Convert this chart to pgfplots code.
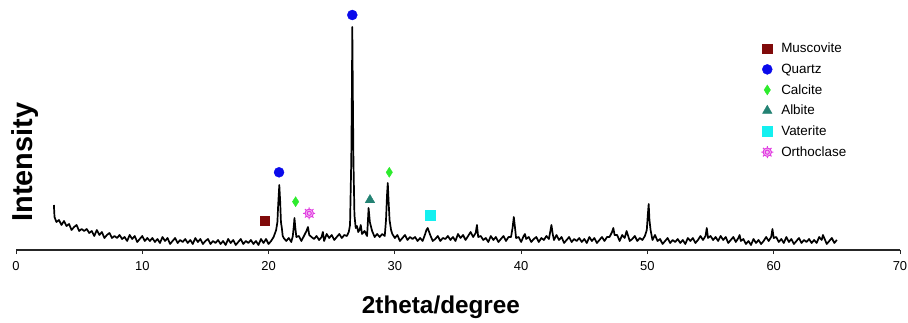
\documentclass[border=0pt]{standalone}
\usepackage{fontspec}
\setmainfont{Liberation Sans}
\usepackage{pgfplots}
\pgfplotsset{compat=1.18}
\usepackage{pgfplotstable}
\definecolor{musc}{RGB}{128,10,10}
\definecolor{quartz}{RGB}{10,10,235}
\definecolor{calc}{RGB}{45,235,45}
\definecolor{albite}{RGB}{35,130,115}
\definecolor{vater}{RGB}{20,240,240}
\definecolor{ortho}{RGB}{225,60,225}
\pgfdeclareplotmark{ortho}{%
  \pgfpathcircle{\pgfpointorigin}{0.7\pgfplotmarksize}%
  \pgfusepathqfillstroke
  \foreach \a in {0,45,...,315}{%
    \pgfpathmoveto{\pgfpointpolar{\a}{0.7\pgfplotmarksize}}%
    \pgfpathlineto{\pgfpointpolar{\a}{\pgfplotmarksize}}}%
  \pgfpathmoveto{\pgfpointpolar{0}{0.35\pgfplotmarksize}}%
  \pgfpathcircle{\pgfpointorigin}{0.35\pgfplotmarksize}%
  \pgfusepathqstroke
}
\pgfplotstableread{
x y
3.0 45
3.05 33
3.2 28
3.4 30
3.6 25
3.8 29
4.0 24
4.2 26
4.4 20
4.6 23
4.8 25
5.0 19
5.2 21
5.4 19
5.6 21
5.8 17
6.0 19
6.2 14
6.4 20
6.6 15
6.8 18
7.0 12
7.2 15
7.4 17
7.6 12
7.8 14
8.0 12
8.2 15
8.4 11
8.6 13
8.8 9
9.0 15
9.2 11
9.4 14
9.6 8
9.8 11
10.0 14
10.2 9
10.4 12
10.6 9
10.8 12
11.0 8
11.2 11
11.4 7
11.6 13
11.8 9
12.0 12
12.2 6
12.4 9
12.6 12
12.8 7
13.0 10
13.2 8
13.4 11
13.6 7
13.8 10
14.0 6
14.2 12
14.4 8
14.6 11
14.8 6
15.0 9
15.2 11
15.4 6
15.6 9
15.8 7
16.0 10
16.2 6
16.4 9
16.6 5
16.8 11
17.0 7
17.2 10
17.4 5
17.6 8
17.8 11
18.0 6
18.2 9
18.4 7
18.6 10
18.8 6
19.0 9
19.2 5
19.4 11
19.6 7
19.8 11
20.0 6
20.2 9
20.4 13
20.6 20
20.7 28
20.76 45
20.85 65
20.92 48
20.98 28
21.05 22
21.12 14
21.2 12
21.4 9
21.6 12
21.8 8
21.92 14
22.0 24
22.05 32
22.12 22
22.2 13
22.4 14
22.6 9
22.8 14
23.0 19
23.12 23
23.22 15
23.4 13
23.6 11
23.8 14
24.0 10
24.2 13
24.3 18
24.4 9
24.6 16
24.8 12
25.0 15
25.2 10
25.4 13
25.6 16
25.8 12
26.0 15
26.2 14
26.35 18
26.45 25
26.55 90
26.6 160
26.63 223
26.67 160
26.72 90
26.8 35
26.9 22
27.0 24
27.1 18
27.2 20
27.3 25
27.4 16
27.6 19
27.8 14
27.85 25
27.92 42
28.02 28
28.2 19
28.4 13
28.6 16
28.8 13
29.0 16
29.2 14
29.3 30
29.38 55
29.44 67
29.5 50
29.58 30
29.7 20
29.8 16
30.0 12
30.2 15
30.4 9
30.6 12
30.8 15
31.0 10
31.2 13
31.4 11
31.6 13
31.8 9
32.0 12
32.2 9
32.4 16
32.5 20
32.6 22
32.8 15
33.0 9
33.2 11
33.4 14
33.6 9
33.8 12
34.0 11
34.2 14
34.4 10
34.6 13
34.8 9
35.0 16
35.2 12
35.4 15
35.6 10
35.8 14
36.0 18
36.2 13
36.4 17
36.5 25
36.6 13
36.8 14
37.0 10
37.2 12
37.4 8
37.6 14
37.8 10
38.0 13
38.2 8
38.4 11
38.6 14
38.8 9
39.0 13
39.2 13
39.32 22
39.42 33
39.5 24
39.6 12
39.8 13
40.0 8
40.2 14
40.3 16
40.4 11
40.6 13
40.8 8
41.0 11
41.2 13
41.4 8
41.6 12
41.8 10
42.0 14
42.2 11
42.4 25
42.5 16
42.6 10
42.8 15
43.0 10
43.2 13
43.4 7
43.6 10
43.8 13
44.0 8
44.2 11
44.4 9
44.6 12
44.8 8
45.0 11
45.2 7
45.4 13
45.6 9
45.8 12
46.0 7
46.2 10
46.4 13
46.6 9
46.8 13
47.0 13
47.2 18
47.3 22
47.4 15
47.6 15
47.8 9
48.0 15
48.2 12
48.35 19
48.4 17
48.6 9
48.8 11
49.0 14
49.2 9
49.4 12
49.6 10
49.8 14
49.95 20
50.03 35
50.1 46
50.16 30
50.25 20
50.4 10
50.6 15
50.8 9
51.0 11
51.2 6
51.4 9
51.6 12
51.8 7
52.0 10
52.2 8
52.4 11
52.6 7
52.8 10
53.0 6
53.2 12
53.4 9
53.6 12
53.8 7
54.0 10
54.2 14
54.4 10
54.6 14
54.7 22
54.8 12
55.0 14
55.2 10
55.4 13
55.6 9
55.8 14
56.0 10
56.2 13
56.4 7
56.6 10
56.8 13
57.0 8
57.2 12
57.3 15
57.4 9
57.6 11
57.8 6
58.0 9
58.2 5
58.4 11
58.6 7
58.8 10
59.0 6
59.2 9
59.4 13
59.6 9
59.8 13
59.9 21
60.0 12
60.2 13
60.4 8
60.6 11
60.8 7
61.0 13
61.2 8
61.4 11
61.6 6
61.8 9
62.0 12
62.2 7
62.4 10
62.6 8
62.8 11
63.0 7
63.2 10
63.4 7
63.6 13
63.8 10
63.9 15
64.0 12
64.2 6
64.4 9
64.6 12
64.8 7
65.0 10
}\xrd
\begin{document}
\begin{tikzpicture}
\begin{axis}[
  at={(0,0)}, anchor=south west,
  scale only axis, width=884bp, height=250bp,
  xmin=0, xmax=70, ymin=0, ymax=250,
  axis x line*=bottom, axis y line=none,
  xtick={0,10,...,70},
  tick align=outside, major tick length=4bp,
  x axis line style={line width=1.3bp, black!85},
  xtick style={line width=1bp, black!85},
  xticklabel style={font=\fontsize{13}{14}\selectfont, inner sep=0pt, yshift=-7bp},
  /pgf/number format/assume math mode=true,
  clip=false,
  legend cell align=left,
  legend image code/.code={\draw[#1, only marks] plot coordinates {(0bp,0bp)};},
  legend style={at={(axis cs:59.0,208)}, anchor=north west, draw=none, fill=none,
    font=\fontsize{13.5}{15}\selectfont, row sep=7.5bp, column sep=7bp, inner sep=0pt,
    nodes={inner sep=1bp}},
]
\addplot[forget plot, black, line width=1.7bp, line join=round] table[x=x,y=y] {\xrd};
\addplot[only marks, mark=square*, mark size=4.6bp, mark options={fill=musc, draw=musc}] coordinates {(19.7,29.5)};
\addlegendentry{Muscovite}
\addplot[only marks, mark=*, mark size=5bp, mark options={fill=quartz, draw=quartz}] coordinates {(20.83,77.7) (26.63,235)};
\addlegendentry{Quartz}
\addplot[only marks, mark=diamond*, mark size=5bp, mark options={fill=calc, draw=calc, xscale=0.85}] coordinates {(22.14,48.3) (29.56,77.7)};
\addlegendentry{Calcite}
\addplot[only marks, mark=triangle*, mark size=5.5bp, mark options={fill=albite, draw=albite}] coordinates {(28.03,50)};
\addlegendentry{Albite}
\addplot[only marks, mark=square*, mark size=5.2bp, mark options={fill=vater, draw=vater}] coordinates {(32.78,35)};
\addlegendentry{Vaterite}
\addplot[only marks, mark=ortho, mark size=6bp, mark options={fill=ortho!35, draw=ortho, line width=1bp}] coordinates {(23.22,36.7)};
\addlegendentry{Orthoclase}
\node[rotate=90, anchor=base, font=\fontsize{29}{32}\selectfont\bfseries] at (axis cs:1.3,88) {Intensity};
\node[anchor=base, font=\fontsize{24.4}{27}\selectfont\bfseries] at (axis cs:33.65,-63) {2theta/degree};
\end{axis}
\pgfresetboundingbox
\path (-16bp,-73bp) rectangle (892bp,250bp);
\end{tikzpicture}
\end{document}
